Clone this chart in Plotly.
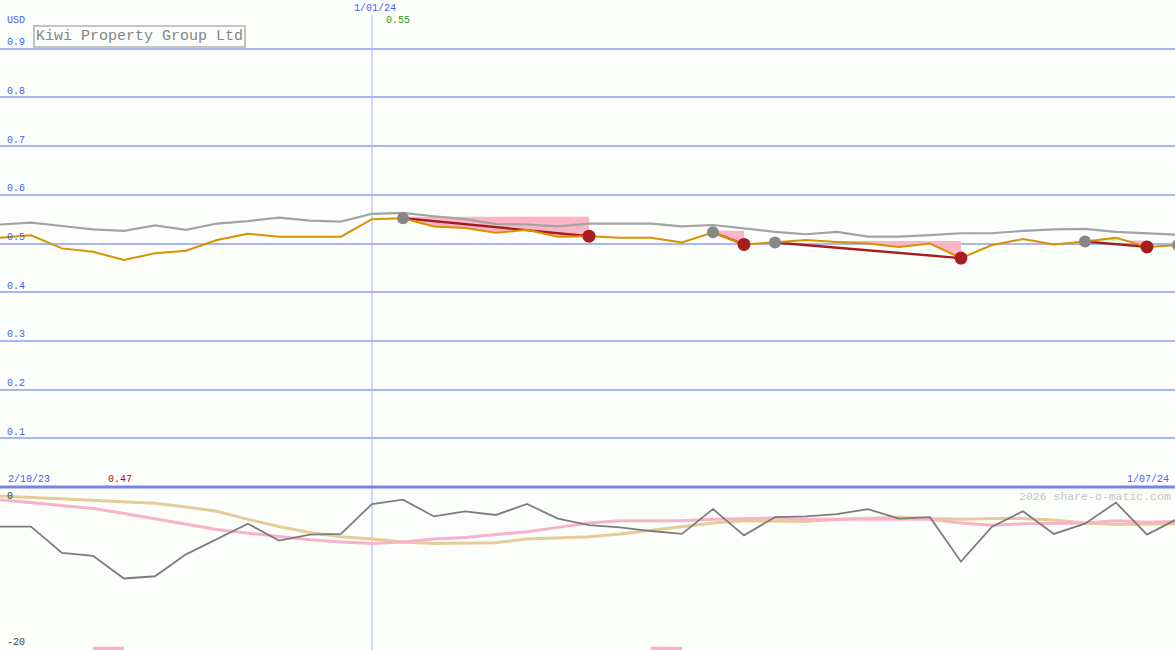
import pandas as pd
import plotly.graph_objects as go

# ---------------- data ----------------
dates = pd.date_range('2023-10-09', periods=39, freq='7D')

price = [0.512, 0.517, 0.490, 0.483, 0.466, 0.480, 0.485, 0.507, 0.520, 0.514, 0.514, 0.514, 0.550,
         0.552, 0.535, 0.532, 0.522, 0.528, 0.514, 0.515, 0.512, 0.512, 0.502, 0.523, 0.498, 0.502,
         0.507, 0.503, 0.500, 0.493, 0.500, 0.470, 0.497, 0.509, 0.498, 0.504, 0.512, 0.493, 0.497]

ma = [0.539, 0.543, 0.536, 0.529, 0.526, 0.537, 0.528, 0.541, 0.546, 0.553, 0.547, 0.545, 0.561,
      0.563, 0.556, 0.550, 0.540, 0.539, 0.535, 0.541, 0.541, 0.541, 0.535, 0.538, 0.531, 0.524,
      0.519, 0.524, 0.514, 0.514, 0.517, 0.521, 0.521, 0.526, 0.529, 0.530, 0.524, 0.521, 0.518]

osc = [-4.2, -4.2, -7.8, -8.2, -11.3, -11.0, -8.0, -5.9, -3.8, -6.1, -5.3, -5.2, -1.1,
       -0.5, -2.8, -2.1, -2.6, -1.1, -3.1, -4.0, -4.3, -4.8, -5.2, -1.8, -5.4, -2.9,
       -2.8, -2.5, -1.8, -3.1, -2.9, -9.0, -4.2, -2.1, -5.2, -3.8, -0.9, -5.3, -3.1]

slow_line = [0.0, -0.2, -0.4, -0.6, -0.7, -1.0, -1.5, -2.1, -3.2, -4.2, -5.0, -5.6, -5.9,
             -6.3, -6.5, -6.4, -6.4, -5.9, -5.8, -5.6, -5.2, -4.7, -4.1, -3.7, -3.4, -3.4,
             -3.5, -3.2, -3.1, -2.9, -3.1, -3.2, -3.1, -3.1, -3.3, -3.7, -3.9, -3.8, -3.8]

fast_line = [-0.5, -0.9, -1.2, -1.7, -2.4, -3.1, -3.9, -4.6, -5.1, -5.6, -6.0, -6.3, -6.5,
             -6.3, -5.9, -5.7, -5.3, -4.9, -4.3, -3.7, -3.4, -3.4, -3.4, -3.2, -3.1, -3.0,
             -3.2, -3.2, -3.1, -3.1, -3.2, -3.7, -4.0, -3.8, -3.8, -3.7, -3.4, -3.6, -3.5]

peak_idx = [13, 23, 25, 35, 38]
trough_idx = [19, 24, 31, 37]
segments = [(13, 19), (23, 24), (25, 31), (35, 37)]
zone_levels = [0.555, 0.526, 0.505, 0.506]
signal_idx = [3, 21]

price_ticks = [0.1, 0.2, 0.3, 0.4, 0.5, 0.6, 0.7, 0.8, 0.9, 1.0]
price_tick_text = ['0.1', '0.2', '0.3', '0.4', '0.5', '0.6', '0.7', '0.8', '0.9', '']
osc_ticks = [0, -20]
osc_tick_text = ['0', '-20']

title = 'Kiwi Property Group Ltd'
currency = 'USD'
mid_date_label = '1/01/24'
mid_date = '2024-01-01'
start_label = '2/10/23'
end_label = '1/07/24'
max_label = '0.55'
min_label = '0.47'
credit = '2026 share-o-matic.com'

# ---------------- styling ----------------
BG = '#fcfefc'
GRID = '#a9b6f2'
SEP = '#7484ea'
BLUE = '#4a5cf0'
FONT = 'Liberation Mono'
W, H = 1175, 650
split = 163 / H

fig = go.Figure()


def fill_polys(s, e, L):
    xs, ys = [dates[s]], [price[s]]
    for i in range(s, e):
        p0, p1 = price[i], price[i + 1]
        if (p0 - L) * (p1 - L) < 0:
            f = (L - p0) / (p1 - p0)
            xs.append(dates[i] + (dates[i + 1] - dates[i]) * f)
            ys.append(L)
        xs.append(dates[i + 1])
        ys.append(p1)
    lo = [min(v, L) for v in ys]
    hi = [max(v, L) for v in ys]
    back_x = [xs[-1], xs[0]]
    back_y = [L, L]
    return (xs + back_x, lo + back_y), (xs + back_x, hi + back_y)


for (s, e), L in zip(segments, zone_levels):
    (px, py), (gx, gy) = fill_polys(s, e, L)
    fig.add_trace(go.Scatter(x=px, y=py, fill='toself', fillcolor='#fbb4c8',
                             line=dict(width=0), mode='lines', hoverinfo='skip',
                             xaxis='x', yaxis='y'))
    fig.add_trace(go.Scatter(x=gx, y=gy, fill='toself', fillcolor='#a6f2a0',
                             line=dict(width=0), mode='lines', hoverinfo='skip',
                             xaxis='x', yaxis='y'))

fig.add_trace(go.Scatter(x=dates, y=ma, mode='lines',
                         line=dict(color='#a3a3a3', width=2.2), xaxis='x', yaxis='y'))
for s, e in segments:
    fig.add_trace(go.Scatter(x=[dates[s], dates[e]], y=[price[s], price[e]], mode='lines',
                             line=dict(color='#a51c1c', width=2.4), xaxis='x', yaxis='y'))
fig.add_trace(go.Scatter(x=dates, y=price, mode='lines',
                         line=dict(color='#d89200', width=2), xaxis='x', yaxis='y'))
fig.add_trace(go.Scatter(x=[dates[i] for i in peak_idx], y=[price[i] for i in peak_idx],
                         mode='markers', marker=dict(color='#878787', size=12, line=dict(width=0)),
                         xaxis='x', yaxis='y'))
fig.add_trace(go.Scatter(x=[dates[i] for i in trough_idx], y=[price[i] for i in trough_idx],
                         mode='markers', marker=dict(color='#a51d1d', size=13, line=dict(width=0)),
                         xaxis='x', yaxis='y'))

# bottom panel
fig.add_trace(go.Scatter(x=dates, y=slow_line, mode='lines',
                         line=dict(color='#e3cc98', width=3), xaxis='x2', yaxis='y2'))
fig.add_trace(go.Scatter(x=dates, y=fast_line, mode='lines',
                         line=dict(color='#f9b2c8', width=3), xaxis='x2', yaxis='y2'))
fig.add_trace(go.Scatter(x=dates, y=osc, mode='lines',
                         line=dict(color='#7c7c7c', width=1.8), xaxis='x2', yaxis='y2'))
fig.add_trace(go.Bar(x=[dates[i] + pd.Timedelta(days=3.5) for i in signal_idx],
                     y=[0.45] * len(signal_idx), base=[-21.1] * len(signal_idx),
                     width=[7 * 24 * 3600 * 1000] * len(signal_idx),
                     marker=dict(color='#f9b2c8', line=dict(width=0)), xaxis='x2', yaxis='y2'))

xr = ['2023-10-09', '2024-06-30 08:00']
annotations = [
    dict(text=title, x=33 / W, y=1 - 25 / H, xref='paper', yref='paper', xanchor='left', yanchor='top',
         showarrow=False, font=dict(family=FONT, size=15, color='#858585'),
         bordercolor='#c4c4c4', borderwidth=2, borderpad=1, bgcolor=BG),
    dict(text=currency, x=5 / W, y=1 - 20 / H, xref='paper', yref='paper', xanchor='left', yanchor='middle',
         showarrow=False, font=dict(family=FONT, size=10, color=BLUE)),
    dict(text=mid_date_label, x=mid_date, y=1 - 9 / H, xref='x', yref='paper', xanchor='center',
         yanchor='middle', xshift=3, showarrow=False, font=dict(family=FONT, size=10, color=BLUE)),
    dict(text=max_label, x=384 / W, y=1 - 20 / H, xref='paper', yref='paper', xanchor='left',
         yanchor='middle', showarrow=False, font=dict(family=FONT, size=10, color='#1e9a1e')),
    dict(text=start_label, x=6 / W, y=1 - 479 / H, xref='paper', yref='paper', xanchor='left',
         yanchor='middle', showarrow=False, font=dict(family=FONT, size=10, color=BLUE)),
    dict(text=min_label, x=106 / W, y=1 - 479 / H, xref='paper', yref='paper', xanchor='left',
         yanchor='middle', showarrow=False, font=dict(family=FONT, size=10, color='#a01414')),
    dict(text=end_label, x=1171 / W, y=1 - 479 / H, xref='paper', yref='paper', xanchor='right',
         yanchor='middle', showarrow=False, font=dict(family=FONT, size=10, color=BLUE)),
    dict(text=credit, x=1173 / W, y=1 - 496 / H, xref='paper', yref='paper', xanchor='right',
         yanchor='middle', showarrow=False, font=dict(family=FONT, size=11.5, color='#c2c2c2')),
]

shapes = [
    dict(type='line', xref='paper', yref='paper', x0=0, x1=1, y0=split, y1=split,
         line=dict(color=SEP, width=3), layer='above'),
    dict(type='line', xref='x', yref='paper', x0=mid_date, x1=mid_date, y0=0, y1=1 - 15 / H,
         line=dict(color='#a2b2f8', width=1), layer='below'),
]

fig.update_layout(
    width=W, height=H, margin=dict(l=0, r=0, t=0, b=0),
    paper_bgcolor=BG, plot_bgcolor=BG, showlegend=False, hovermode=False,
    font=dict(family=FONT, size=10),
    xaxis=dict(domain=[0, 1], range=xr, type='date', showgrid=False, showticklabels=False,
               zeroline=False, showline=False, ticks=''),
    yaxis=dict(domain=[split, 1], range=[0, 1.0], tickvals=price_ticks, ticktext=price_tick_text,
               ticklabelposition='inside top', ticklabelstandoff=4,
               tickfont=dict(family=FONT, size=10, color=BLUE),
               showgrid=True, gridcolor=GRID, gridwidth=2, zeroline=False, showline=False, ticks=''),
    xaxis2=dict(domain=[0, 1], range=xr, type='date', anchor='y2', showgrid=False,
                showticklabels=False, zeroline=False, showline=False, ticks=''),
    yaxis2=dict(domain=[0, split], range=[-21.1, 1.23], anchor='x2', tickvals=osc_ticks,
                ticktext=osc_tick_text, ticklabelposition='inside', ticklabelstandoff=4,
                tickfont=dict(family=FONT, size=10, color='#444444'),
                showgrid=False, zeroline=False, showline=False, ticks=''),
    annotations=annotations, shapes=shapes,
)

fig.write_html('out.html', config={'displayModeBar': False, 'staticPlot': True},
               post_script="document.body.style.margin='0';document.body.style.overflow='hidden';")
